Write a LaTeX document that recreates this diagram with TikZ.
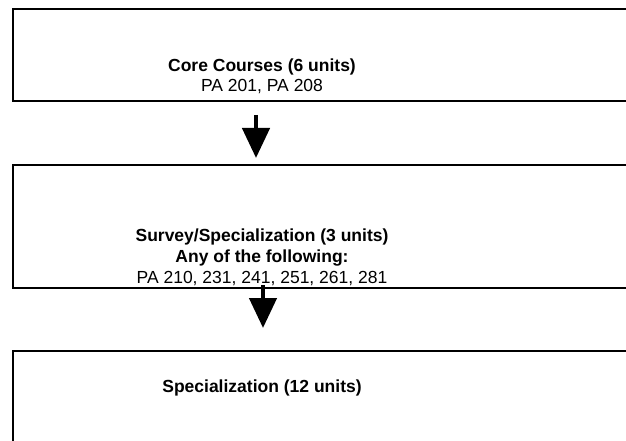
\documentclass[tikz,border=0pt]{standalone}
\usepackage{fontspec}
\setmainfont{Liberation Sans}
\usetikzlibrary{arrows.meta}
\begin{document}
\begin{tikzpicture}[x=1pt,y=-1pt,
  box/.style={draw=black,line width=2pt,rectangle,inner sep=0pt,anchor=north west},
  txt/.style={inner sep=0pt,anchor=base,font=\fontsize{17.5pt}{20pt}\selectfont},
  bold/.style={txt,font=\fontsize{17.5pt}{20pt}\selectfont\bfseries},
  bigarrow/.style={line width=4.5pt,-{Triangle[width=27pt,length=30pt]}}]
\useasboundingbox (0,0) rectangle (626,441);
\begin{scope}
\clip (0,0) rectangle (626,441);
\node[box,minimum width=640pt,minimum height=92pt] (box1) at (12,8) {};
\node[box,minimum width=640pt,minimum height=123pt] (box2) at (12,164) {};
\node[box,minimum width=640pt,minimum height=120pt] (box3) at (12,350) {};
\end{scope}
\node[bold] (t1a) at (262,72) {Core Courses (6 units)};
\node[txt] (t1b) at (262,92) {PA 201, PA 208};
\node[bold] (t2a) at (262,241) {Survey/Specialization (3 units)};
\node[bold] (t2b) at (262,262) {Any of the following:};
\node[txt] (t2c) at (262,283) {PA 210, 231, 241, 251, 261, 281};
\node[bold] (t3a) at (262,392) {Specialization (12 units)};
\draw[bigarrow,shorten <=13pt,shorten >=6pt] ([xshift=-6pt]box1.south -| t1b) -- ([xshift=-6pt]box2.north -| t1b);
\draw[bigarrow,shorten <=-4pt,shorten >=22pt] ([xshift=1pt]box2.south -| t2c) -- ([xshift=1pt]box3.north -| t2c);
\end{tikzpicture}
\end{document}
